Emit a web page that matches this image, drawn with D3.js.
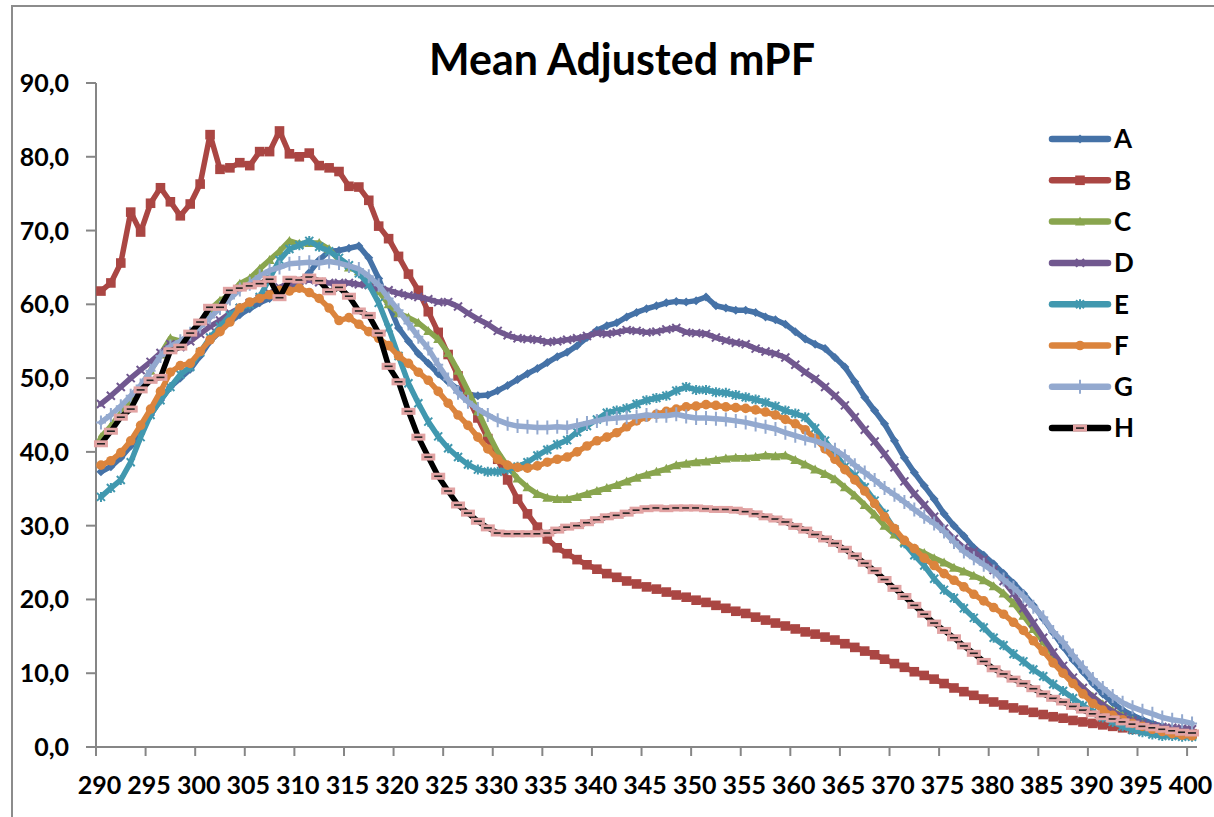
<!DOCTYPE html>
<html><head><meta charset="utf-8">
<script src="https://cdn.jsdelivr.net/npm/d3@7"></script>
<style>body{margin:0;background:#fff} svg{display:block}</style>
</head><body><svg id="c" width="1214" height="817"></svg>
<script>
const wavelengths = d3.range(290, 401);
const seriesNames = ["A","B","C","D","E","F","G","H"];
const seriesA = [37.3,38.0,39.2,40.8,42.8,45.0,47.0,48.8,50.0,51.2,53.0,55.0,56.3,57.6,58.6,59.4,60.2,60.8,61.5,62.3,63.0,64.3,66.0,67.2,67.3,67.6,67.9,66.3,63.5,60.0,56.8,55.0,53.3,52.0,50.6,49.5,48.5,47.8,47.6,47.7,48.3,49.0,49.8,50.6,51.3,52.1,52.9,53.5,54.4,55.5,56.5,57.1,57.5,58.3,58.9,59.4,59.8,60.2,60.4,60.3,60.5,61.0,59.8,59.5,59.2,59.2,58.9,58.3,57.9,57.3,56.3,55.3,54.6,54.0,52.8,51.5,49.5,47.4,45.6,43.8,41.5,39.2,37.2,35.4,33.6,31.6,30.0,28.6,27.0,26.0,24.8,23.5,22.2,20.8,19.2,17.4,15.5,13.6,11.8,10.2,8.6,7.2,6.0,5.0,4.3,3.7,3.2,2.8,2.5,2.2,2.0];
const seriesB = [61.8,62.9,65.6,72.5,69.8,73.7,75.8,73.9,72.0,73.6,76.3,83.0,78.3,78.5,79.2,78.8,80.7,80.7,83.5,80.4,80.0,80.5,78.8,78.5,78.0,76.0,75.9,74.1,70.6,68.9,66.5,64.1,61.9,59.0,56.2,53.2,50.3,47.4,44.6,41.8,39.0,36.2,33.6,31.6,29.8,28.2,27.0,26.2,25.4,24.7,24.1,23.5,23.0,22.5,22.1,21.7,21.4,21.0,20.6,20.3,19.9,19.6,19.2,18.8,18.4,18.1,17.6,17.2,16.8,16.4,16.0,15.6,15.3,14.9,14.5,14.0,13.5,13.0,12.5,11.9,11.3,10.8,10.2,9.7,9.2,8.6,8.0,7.5,7.0,6.5,6.1,5.7,5.3,5.0,4.7,4.4,4.1,3.9,3.6,3.4,3.2,3.0,2.8,2.6,2.4,2.3,2.2,2.1,2.0,1.9,1.8];
const seriesC = [42.0,43.5,45.2,47.0,48.8,51.0,53.2,55.4,55.0,55.5,57.5,59.3,60.5,61.3,62.8,63.5,64.8,66.0,67.2,68.6,68.2,68.3,68.3,67.5,66.0,65.0,64.5,63.6,61.8,60.0,58.8,58.2,57.5,56.4,55.3,53.4,51.0,48.3,45.5,42.6,40.0,38.0,36.4,35.2,34.3,33.8,33.6,33.6,33.9,34.3,34.7,35.1,35.5,36.0,36.5,36.9,37.3,37.7,38.2,38.4,38.6,38.7,38.9,39.1,39.2,39.2,39.3,39.5,39.4,39.5,38.9,38.3,37.6,37.0,36.3,35.2,34.1,32.8,31.5,30.0,28.8,27.8,26.9,26.3,25.6,25.0,24.3,23.8,23.2,22.6,21.8,20.8,19.5,17.8,16.0,14.3,12.5,10.8,9.3,8.0,6.8,5.8,4.9,4.2,3.6,3.1,2.7,2.3,2.0,1.8,1.6];
const seriesD = [46.5,47.6,48.8,50.0,51.1,52.2,53.4,54.6,54.2,55.0,56.0,57.0,57.8,58.8,59.5,60.2,60.8,61.5,62.3,62.8,63.2,63.3,63.0,62.9,62.9,62.9,62.7,62.6,62.2,61.9,61.5,61.2,61.0,60.7,60.3,60.3,59.7,58.8,58.0,57.3,56.4,55.8,55.4,55.3,55.2,54.9,55.0,55.2,55.4,55.7,56.1,56.0,56.2,56.5,56.4,56.2,56.3,56.6,56.8,56.2,56.1,56.0,55.5,55.1,54.8,54.6,54.0,53.6,53.3,52.8,51.8,50.8,49.9,48.8,47.6,46.3,44.7,43.0,41.4,39.7,37.9,36.0,34.3,32.8,31.2,29.6,28.2,27.0,26.5,25.4,24.0,22.5,20.8,18.8,16.8,14.8,12.8,11.0,9.4,8.0,6.8,5.7,4.8,4.1,3.6,3.2,2.9,2.7,2.6,2.5,2.4];
const seriesE = [33.9,35.1,36.2,38.6,42.0,45.0,47.0,48.8,50.5,51.5,53.5,55.5,57.0,58.5,59.5,60.0,61.0,63.5,66.0,67.5,68.0,68.6,67.8,67.2,66.3,65.3,64.2,62.7,60.2,56.8,53.0,49.3,46.6,44.1,42.1,40.5,39.3,38.3,37.6,37.3,37.3,37.6,38.0,38.6,39.5,40.3,41.0,41.6,42.7,43.5,44.4,45.3,45.6,45.9,46.5,47.0,47.3,47.6,48.3,48.8,48.4,48.4,48.1,48.0,47.7,47.4,47.1,46.7,46.2,45.6,45.2,44.7,43.2,41.5,39.8,38.0,36.8,35.2,33.4,31.6,29.5,27.6,26.0,24.6,22.8,21.3,20.2,18.8,17.5,16.2,14.8,13.8,12.6,11.6,10.5,9.6,8.5,7.6,6.6,5.6,4.8,4.0,3.4,2.8,2.3,2.0,1.7,1.5,1.5,1.4,1.4];
const seriesF = [38.2,38.8,39.9,41.5,43.6,45.8,48.2,50.8,51.7,52.0,53.6,55.2,56.3,57.6,59.5,60.3,60.8,61.3,61.9,61.8,62.2,61.6,60.8,59.5,57.8,58.2,57.3,56.3,55.4,54.4,53.0,52.0,50.8,49.7,48.2,46.6,45.0,43.6,42.0,40.4,39.0,38.2,37.9,37.8,38.1,38.6,39.0,39.3,40.0,40.8,41.5,42.0,42.6,43.4,44.2,44.7,45.1,45.5,45.8,46.1,46.2,46.4,46.3,46.1,46.0,45.9,45.7,45.4,45.0,44.4,43.8,43.0,41.8,40.4,39.0,37.6,36.2,34.7,33.0,31.2,29.6,28.0,26.9,25.6,24.6,23.5,22.6,21.7,20.7,19.8,18.9,18.0,16.9,15.8,14.4,13.0,11.4,10.0,8.6,7.2,5.9,5.0,4.3,3.7,3.2,2.8,2.4,2.1,1.8,1.6,1.5];
const seriesG = [44.0,45.0,46.2,47.6,49.0,51.0,53.0,54.3,55.0,56.0,57.0,58.2,59.5,60.8,62.0,62.8,63.8,64.6,65.0,65.5,65.6,65.7,65.6,65.8,65.6,65.2,64.8,63.8,62.6,60.8,59.2,57.4,55.6,54.0,51.8,49.8,48.0,46.8,45.8,45.0,44.3,43.8,43.5,43.4,43.3,43.3,43.4,43.3,43.6,43.9,44.2,44.5,44.6,44.7,44.8,45.0,44.9,44.9,45.1,44.8,44.6,44.6,44.5,44.4,44.2,44.0,43.7,43.4,43.1,42.6,42.2,41.8,41.5,41.0,40.3,39.4,38.2,37.2,36.2,35.1,34.2,33.2,32.2,31.2,30.3,29.2,27.8,26.5,25.6,24.7,23.8,22.7,21.6,20.4,19.0,17.6,15.6,14.2,12.4,10.8,9.2,8.0,6.9,6.0,5.4,4.9,4.5,4.0,3.7,3.5,3.2];
const seriesH = [41.1,42.8,44.7,45.8,48.4,49.7,50.1,53.7,54.2,56.1,57.6,59.6,59.6,61.9,62.2,62.5,62.8,63.4,60.9,63.4,63.3,63.7,63.2,61.7,62.3,61.1,59.1,58.5,56.1,51.6,49.5,45.5,42.0,39.3,36.7,34.7,32.8,31.7,30.6,29.7,29.0,28.9,28.9,28.9,28.9,29.0,29.4,29.8,30.0,30.4,30.8,31.2,31.4,31.7,32.1,32.3,32.4,32.3,32.4,32.4,32.4,32.3,32.2,32.2,32.1,31.9,31.6,31.2,30.9,30.5,29.9,29.4,28.8,28.2,27.6,26.8,25.9,24.9,23.9,22.7,21.5,20.4,19.2,18.0,16.8,15.8,14.8,13.7,12.7,11.6,10.6,9.9,9.2,8.6,7.9,7.2,6.6,6.1,5.5,5.0,4.5,4.1,3.8,3.4,3.1,2.8,2.6,2.4,2.2,2.0,1.9];
const yTickValues = [0,10,20,30,40,50,60,70,80,90];
const xTickLabels = ["290","295","300","305","310","315","320","325","330","335","340","345","350","355","360","365","370","375","380","385","390","395","400"];
const chartTitle = "Mean Adjusted mPF";

const seriesValues = [seriesA,seriesB,seriesC,seriesD,seriesE,seriesF,seriesG,seriesH];
const colors = ["#4572A7","#AA4643","#89A54E","#71588F","#4198AF","#DB843D","#93A9CF","#000000"];
const markerTypes = ["diamond","square","triangle","x","star","circle","plus","dash"];

const svg = d3.select("#c");
const FONT = "Lato, 'Open Sans', sans-serif";

// chart border
svg.append("rect").attr("x",12).attr("y",6).attr("width",1240).attr("height",850)
  .attr("fill","none").attr("stroke","#8c8c8c").attr("stroke-width",2);

const x = d3.scaleBand().domain(wavelengths).range([96,1197]).padding(0);
const y = d3.scaleLinear().domain([0,90]).range([747,83]);
const cx = w => x(w) + x.bandwidth()/2;

// title
svg.append("text").attr("x",622).attr("y",75).attr("text-anchor","middle")
  .attr("font-family",FONT).attr("font-weight","bold").attr("font-size",43)
  .attr("fill","#000").text(chartTitle);

// y axis
const yAxis = svg.append("g");
yAxis.append("line").attr("x1",96).attr("x2",96).attr("y1",y(90)).attr("y2",y(0))
  .attr("stroke","#868686").attr("stroke-width",2);
yAxis.selectAll("line.t").data(yTickValues).join("line").attr("class","t")
  .attr("x1",86).attr("x2",96).attr("y1",d=>y(d)).attr("y2",d=>y(d))
  .attr("stroke","#868686").attr("stroke-width",2);
yAxis.selectAll("text").data(yTickValues).join("text")
  .attr("x",69).attr("y",d=>y(d)).attr("dy","0.36em").attr("text-anchor","end")
  .attr("font-family",FONT).attr("font-weight","bold").attr("font-size",25)
  .text(d=>d.toFixed(1).replace(".",","));

// x axis
const xAxis = svg.append("g");
xAxis.append("line").attr("x1",96).attr("x2",1197).attr("y1",747).attr("y2",747)
  .attr("stroke","#868686").attr("stroke-width",2);
xAxis.selectAll("line.t").data(xTickLabels).join("line").attr("class","t")
  .attr("x1",d=>x(+d)).attr("x2",d=>x(+d)).attr("y1",747).attr("y2",756)
  .attr("stroke","#868686").attr("stroke-width",2);
xAxis.selectAll("text").data(xTickLabels).join("text")
  .attr("x",d=>x(+d)+3.5).attr("y",785).attr("dy","0.36em").attr("text-anchor","middle")
  .attr("font-family",FONT).attr("font-weight","bold").attr("font-size",25)
  .text(d=>d);

function drawMarker(g, type, color){
  switch(type){
    case "diamond": g.append("path").attr("d","M0,-4.5L4.5,0L0,4.5L-4.5,0Z").attr("fill",color); break;
    case "square": g.append("path").attr("d","M-4.8,-4.8h9.6v9.6h-9.6Z").attr("fill",color); break;
    case "triangle": g.append("path").attr("d","M0,-5L5,4L-5,4Z").attr("fill",color); break;
    case "x": g.append("path").attr("d","M-4,-4L4,4M-4,4L4,-4").attr("stroke",color).attr("stroke-width",2).attr("fill","none"); break;
    case "star": g.append("path").attr("d","M-4,-4L4,4M-4,4L4,-4M0,-5V5").attr("stroke",color).attr("stroke-width",2).attr("fill","none"); break;
    case "circle": g.append("circle").attr("r",4.8).attr("fill",color); break;
    case "plus": g.append("path").attr("d","M-5,0H5M0,-7V7").attr("stroke",color).attr("stroke-width",2).attr("fill","none"); break;
    case "dash":
      g.append("rect").attr("x",-7).attr("y",-3.5).attr("width",14).attr("height",7).attr("fill","#E2A3A3");
      g.append("path").attr("d","M-4,0H4").attr("stroke","#222").attr("stroke-width",1.6);
      break;
  }
}

const line = d3.line().x((d,i)=>cx(wavelengths[i])).y(d=>y(d)).curve(d3.curveLinear);
const plot = svg.append("g");
seriesValues.forEach((vals,si)=>{
  const g = plot.append("g");
  g.append("path").attr("d",line(vals)).attr("fill","none").attr("stroke",colors[si])
    .attr("stroke-width",5.5).attr("stroke-linejoin","round").attr("stroke-linecap","round");
  const mg = g.append("g");
  vals.forEach((v,i)=>{
    const m = mg.append("g").attr("transform",`translate(${cx(wavelengths[i])},${y(v)})`);
    drawMarker(m, markerTypes[si], si===7 ? "#E2A3A3" : colors[si]);
  });
});

// legend
const legend = svg.append("g");
seriesNames.forEach((name,i)=>{
  const ly = 139 + i*41.3;
  const g = legend.append("g");
  g.append("line").attr("x1",1052).attr("x2",1108).attr("y1",ly).attr("y2",ly)
    .attr("stroke",colors[i]).attr("stroke-width",6.5).attr("stroke-linecap","round");
  const m = g.append("g").attr("transform",`translate(1080,${ly})`);
  drawMarker(m, markerTypes[i], colors[i]);
  g.append("text").attr("x",1114).attr("y",ly).attr("dy","0.36em")
    .attr("font-family",FONT).attr("font-weight","bold").attr("font-size",26).text(name);
});
</script></body></html>
